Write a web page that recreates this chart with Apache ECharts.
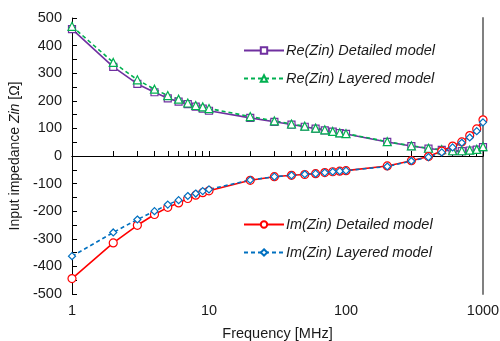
<!DOCTYPE html>
<html>
<head>
<meta charset="utf-8">
<script src="https://cdn.jsdelivr.net/npm/echarts@6/dist/echarts.min.js"></script>
<style>
  html, body { margin: 0; padding: 0; background: #fff; }
  #chart { width: 500px; height: 341px; }
</style>
</head>
<body>
<div id="chart"></div>
<script>
// frequency points [MHz]
var freqs = [1, 2, 3, 4, 5, 6, 7, 8, 9, 10, 20, 30, 40, 50, 60, 70, 80, 90, 100, 200, 300, 400, 500, 600, 700, 800, 900, 1000];

var reDetailed = [460, 323, 261, 231, 209, 197, 188, 179, 172, 164, 138, 124, 114, 106, 99, 93, 88, 83, 80, 51, 36, 27, 22, 18, 18, 20, 23, 32];
var reLayered = [470, 339, 276, 242, 219, 206, 192, 183, 178, 172, 143, 127, 116, 108, 101, 95, 89, 84, 81, 52, 37, 28, 23, 19, 19, 21, 24, 34];
var imDetailed = [-444, -315, -251, -212, -186, -170, -154, -142, -133, -126, -88, -75, -70, -67, -64, -60, -57, -55, -53, -36, -17, -2, 18, 36, 51, 74, 98, 131];
var imLayered = [-363, -277, -230, -200, -176, -160, -145, -136, -127, -121, -87, -75, -70, -66, -64, -60, -57, -55, -53, -38, -18, -4, 13, 31, 48, 67, 90, 122];

// tick positions
var xTicks = [1, 2, 3, 4, 5, 6, 7, 8, 9, 10, 20, 30, 40, 50, 60, 70, 80, 90, 100, 200, 300, 400, 500, 600, 700, 800, 900, 1000];
var xLabels = [1, 10, 100, 1000];
var yTicks = [-500, -450, -400, -350, -300, -250, -200, -150, -100, -50, 0, 50, 100, 150, 200, 250, 300, 350, 400, 450, 500];

function pairs(ys) {
  return freqs.map(function (f, i) { return [f, ys[i]]; });
}

var font = "'Liberation Sans', Arial, sans-serif";
var txt = '#1a1a1a';

var chart = echarts.init(document.getElementById('chart'), null, { renderer: 'canvas' });

function lineSeries(name, ys, color, symbol, size, dashed) {
  return {
    name: name, type: 'line', data: pairs(ys),
    symbol: symbol, symbolSize: size,
    lineStyle: { color: color, width: 1.6, type: dashed ? [4, 3] : 'solid' },
    itemStyle: { color: '#fff', borderColor: color, borderWidth: 1.2 }
  };
}

chart.setOption({
  backgroundColor: '#fff',
  animation: false,
  textStyle: { fontFamily: font },
  grid: { left: 72, right: 17, top: 18, bottom: 47, outerBoundsMode: 'none', containLabel: false },
  legend: [
    {
      data: ['Re(Zin) Detailed model', 'Re(Zin) Layered model'],
      orient: 'vertical', left: 238, top: 38,
      itemWidth: 40, itemHeight: 8, itemGap: 13,
      textStyle: { fontFamily: font, fontSize: 14.5, fontStyle: 'italic', color: txt, padding: [0, 0, 0, -3] }
    },
    {
      data: ['Im(Zin) Detailed model', 'Im(Zin) Layered model'],
      orient: 'vertical', left: 238, top: 212,
      itemWidth: 40, itemHeight: 8, itemGap: 13,
      textStyle: { fontFamily: font, fontSize: 14.5, fontStyle: 'italic', color: txt, padding: [0, 0, 0, -3] }
    }
  ],
  xAxis: [
    {
      type: 'log', logBase: 10, min: 1, max: 1000,
      name: 'Frequency [MHz]', nameLocation: 'middle', nameGap: 32,
      nameTextStyle: { fontFamily: font, fontSize: 14.5, color: txt },
      axisLine: { lineStyle: { color: '#000', width: 1 } },
      axisTick: { inside: true, length: 5, customValues: xTicks, lineStyle: { color: '#000' } },
      axisLabel: {
        customValues: xLabels, fontFamily: font, fontSize: 14.5, color: txt, margin: 9,
        formatter: function (v) { return String(v); }
      },
      splitLine: { show: false }, minorTick: { show: false }
    },
    {
      type: 'log', logBase: 10, min: 1, max: 1000, position: 'top',
      axisLine: { show: true, lineStyle: { color: '#000', width: 1 } },
      axisTick: { show: false }, axisLabel: { show: false }, splitLine: { show: false }
    }
  ],
  yAxis: [
    {
      type: 'value', min: -500, max: 500, interval: 100,
      name: 'Input impedance {i|Zin} [Ω]', nameLocation: 'middle', nameGap: 40, nameRotate: 90,
      nameTextStyle: {
        fontFamily: font, fontSize: 14, color: txt,
        rich: { i: { fontFamily: font, fontSize: 14, fontStyle: 'italic', color: txt } }
      },
      axisLine: { show: true, lineStyle: { color: '#000', width: 1 } },
      axisTick: { inside: true, length: 5, customValues: yTicks, lineStyle: { color: '#000' } },
      axisLabel: { fontFamily: font, fontSize: 14.5, color: txt, margin: 10 },
      splitLine: { show: false }
    },
    {
      type: 'value', min: -500, max: 500, interval: 100, position: 'right',
      axisLine: { show: true, lineStyle: { color: '#808080', width: 2 } },
      axisTick: { show: false }, axisLabel: { show: false }, splitLine: { show: false }
    }
  ],
  series: [
    lineSeries('Re(Zin) Detailed model', reDetailed, '#7030A0', 'rect', 7, false),
    lineSeries('Re(Zin) Layered model', reLayered, '#00B050', 'triangle', 8, true),
    lineSeries('Im(Zin) Detailed model', imDetailed, '#FF0000', 'circle', 8, false),
    lineSeries('Im(Zin) Layered model', imLayered, '#0070C0', 'diamond', 7, true)
  ]
});

window.onresize = function () {
  chart.resize();
};
</script>
</body>
</html>
